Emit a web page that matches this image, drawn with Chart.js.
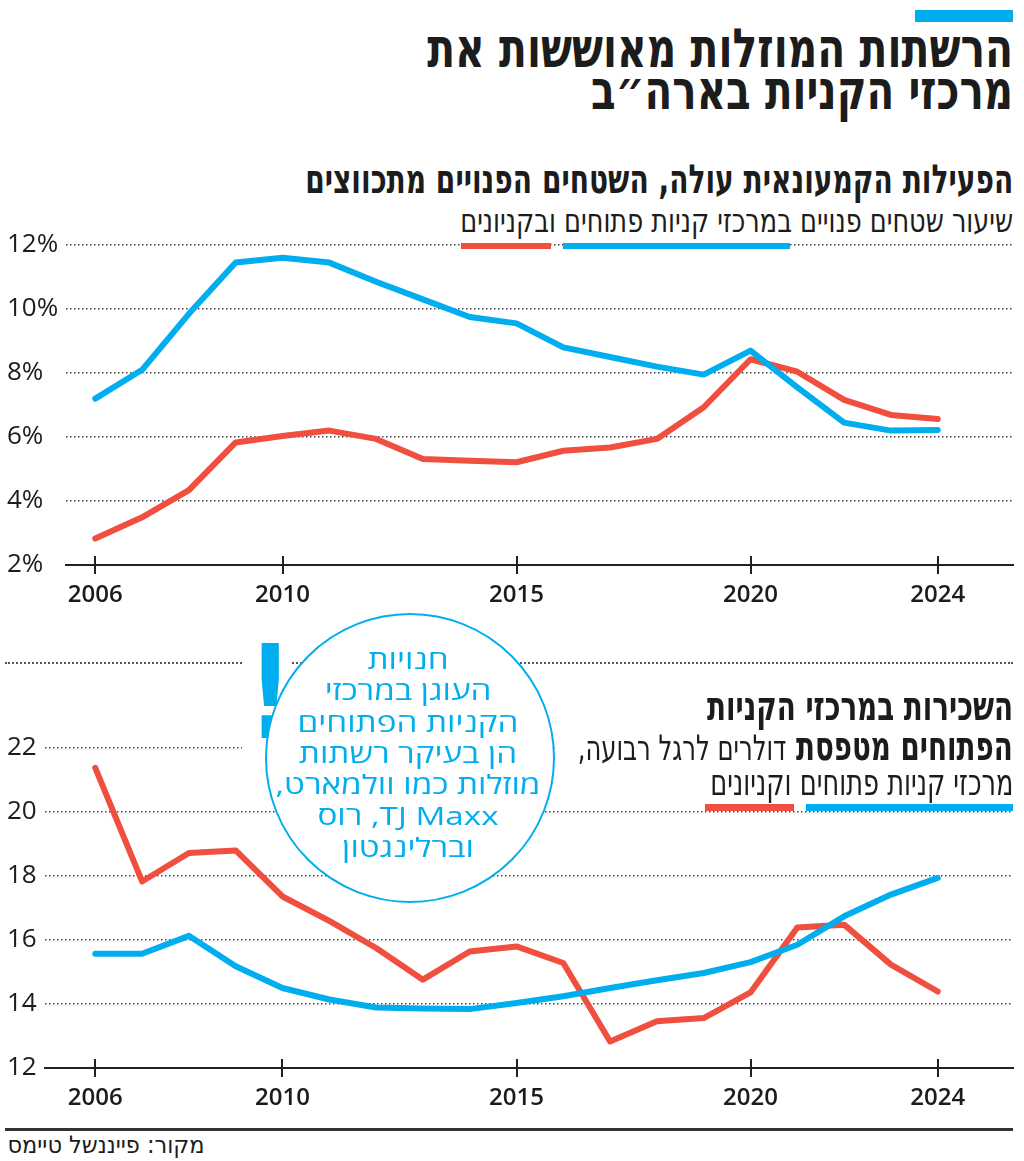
<!DOCTYPE html>
<html lang="he">
<head>
<meta charset="utf-8">
<title>הרשתות המוזלות מאוששות את מרכזי הקניות בארה״ב</title>
<script src="https://cdn.jsdelivr.net/npm/chart.js@4.4.1/dist/chart.umd.min.js"></script>
<style>
  body { margin: 0; background: #fff; width: 1024px; height: 1161px; position: relative; overflow: hidden;
         font-family: 'DejaVu Sans', sans-serif; color: #1c1c1c; }
  .fit { position: absolute; right: 11px; white-space: nowrap; direction: rtl; line-height: 1; transform-origin: 100% 50%; }
  .bold { font-weight: bold; }
  .reg { font-weight: normal; }
  .bar { position: absolute; }
  .blue { background: #00aeef; }
  .red { background: #f04e3e; }
  #circle { position: absolute; left: 265px; top: 613px; width: 286px; height: 286px; border: 2px solid #00aeef;
            border-radius: 50%; background: #fff; z-index: 3; }
  #circleText { position: absolute; left: 258px; width: 300px; top: 644px; z-index: 4; text-align: center; direction: rtl;
                font-family: 'Open Sans', sans-serif; font-size: 26px; line-height: 31.3px; color: #00aeef; }
  #bang { position: absolute; left: 242px; top: 630px; width: 48px; height: 125px; background: #fff; z-index: 3; }
  #bang span { position: absolute; left: 0; width: 48px; text-align: center; top: -2px; font-size: 130px; line-height: 1;
               font-weight: bold; color: #00aeef; transform: scaleX(0.75); }
  #sep { position: absolute; left: 5px; width: 1008px; top: 662px; border-top: 2px dotted #555; }
  #rule { position: absolute; left: 5px; width: 1008px; top: 1128px; height: 3px; background: #333; }
  .chartBox { position: absolute; left: 0; width: 1024px; }
  #titleBox2 { position: absolute; left: 555px; width: 469px; top: 684px; height: 116px; background: #fff; z-index: 2; }
</style>
</head>
<body>

<div class="bar blue" style="left:915px; top:10px; width:98px; height:12px;"></div>

<div class="fit bold" id="t1" data-w="586" style="top:22px; font-size:54px;">הרשתות המוזלות מאוששות את</div>
<div class="fit bold" id="t2" data-w="422" style="top:64px; font-size:54px;">מרכזי הקניות בארה״ב</div>

<div class="fit bold" id="s1" data-w="708" style="top:159px; font-size:40px;">הפעילות הקמעונאית עולה, השטחים הפנויים מתכווצים</div>
<div class="fit reg" id="s2" data-w="553" style="top:205px; font-size:32px;">שיעור שטחים פנויים במרכזי קניות פתוחים ובקניונים</div>

<div class="chartBox" style="top:225px; height:385px;"><canvas id="chartVacancy" width="1024" height="385"></canvas></div>

<div class="bar red" style="left:461px; top:243px; width:90px; height:6px; z-index:2;"></div>
<div class="bar blue" style="left:563px; top:243px; width:227px; height:6px; z-index:2;"></div>

<div id="sep"></div>

<div class="chartBox" style="top:728px; height:385px;"><canvas id="chartRent" width="1024" height="385"></canvas></div>

<div id="titleBox2"></div>
<div class="fit bold" id="b1" data-w="306" style="top:686px; font-size:40px; z-index:3;">השכירות במרכזי הקניות</div>
<div class="fit bold" id="b2" data-w="435" style="top:726px; font-size:40px; z-index:3;">הפתוחים מטפסת <span class="reg" style="font-size:35px;">דולרים לרגל רבועה,</span></div>
<div class="fit reg" id="b3" data-w="303" style="top:764px; font-size:37px; z-index:3;">מרכזי קניות פתוחים וקניונים</div>

<div class="bar red" style="left:705px; top:804px; width:89px; height:7px; z-index:3;"></div>
<div class="bar blue" style="left:806px; top:804px; width:207px; height:7px; z-index:3;"></div>

<div id="bang"><span>!</span></div>
<div id="circle"></div>
<div id="circleText">חנויות<br>העוגן במרכזי<br>הקניות הפתוחים<br>הן בעיקר רשתות<br>מוזלות כמו וולמארט,<br>TJ Maxx, רוס<br>וברלינגטון</div>

<div id="rule"></div>
<div class="fit reg" id="src" data-w="197" style="top:1133px; right:819px; font-size:24px;">מקור: פייננשל טיימס</div>

<script>
// data (annual, 2006-2024)
const years = [2006, 2007, 2008, 2009, 2010, 2011, 2012, 2013, 2014, 2015, 2016, 2017, 2018, 2019, 2020, 2021, 2022, 2023, 2024];
const yearTicks = [2006, 2010, 2015, 2020, 2024];

// vacancy rate, %
const vacancyOpenAir = [7.2, 8.1, 9.85, 11.45, 11.6, 11.45, 10.85, 10.3, 9.75, 9.55, 8.8, 8.5, 8.2, 7.95, 8.7, 7.55, 6.45, 6.2, 6.22];
const vacancyMalls = [2.83, 3.49, 4.34, 5.83, 6.03, 6.2, 5.94, 5.31, 5.26, 5.21, 5.57, 5.67, 5.94, 6.93, 8.43, 8.04, 7.16, 6.69, 6.56];
const vacancyTicks = [2, 4, 6, 8, 10, 12];

// rent, dollars per square foot
const rentOpenAir = [15.57, 15.57, 16.13, 15.18, 14.5, 14.14, 13.89, 13.86, 13.84, 14.03, 14.24, 14.5, 14.74, 14.97, 15.31, 15.85, 16.74, 17.42, 17.94];
const rentMalls = [21.38, 17.83, 18.72, 18.8, 17.36, 16.6, 15.75, 14.76, 15.64, 15.8, 15.28, 12.83, 13.46, 13.56, 14.36, 16.39, 16.48, 15.23, 14.39];
const rentTicks = [12, 14, 16, 18, 20, 22];

const BLUE = '#00aeef';
const RED = '#f04e3e';

// squeeze the headline texts to the widths they have in the print version
document.querySelectorAll('.fit').forEach(el => {
  const w = el.getBoundingClientRect().width;
  el.style.transform = 'scaleX(' + (el.dataset.w / w) + ')';
});
(function () {
  const ct = document.getElementById('circleText');
  const w = 265;
  // widest line is the 5th one
  const probe = document.createElement('span');
  probe.style.cssText = "font-family:'Open Sans',sans-serif;font-size:26px;white-space:nowrap;position:absolute;visibility:hidden";
  probe.textContent = 'מוזלות כמו וולמארט,';
  document.body.appendChild(probe);
  const s = Math.min(1.3, w / probe.getBoundingClientRect().width);
  probe.remove();
  ct.style.transform = 'scaleX(' + s + ')';
})();

Chart.defaults.font.family = "'Open Sans', sans-serif";
Chart.defaults.color = '#1c1c1c';

// tick marks that cross the x axis line
const crossTicks = {
  id: 'crossTicks',
  afterDraw(chart) {
    const xs = chart.scales.x;
    const ctx = chart.ctx;
    const y0 = chart.chartArea.bottom;
    ctx.save();
    ctx.strokeStyle = '#222';
    ctx.lineWidth = 2;
    xs.ticks.forEach(t => {
      const px = Math.round(xs.getPixelForValue(t.value));
      ctx.beginPath();
      ctx.moveTo(px, y0 - 9);
      ctx.lineTo(px, y0 + 9);
      ctx.stroke();
    });
    ctx.restore();
  }
};

function points(vals) {
  return years.map((y, i) => ({x: y, y: vals[i]}));
}

function lineSet(vals, color) {
  return {
    data: points(vals),
    borderColor: color,
    borderWidth: 6,
    pointRadius: 0,
    tension: 0,
    borderCapStyle: 'round',
    borderJoinStyle: 'round'
  };
}

function makeConfig(blueVals, redVals, yTicks, xMin, yAxisWidth, suffix) {
  return {
    type: 'line',
    data: {
      datasets: [lineSet(blueVals, BLUE), lineSet(redVals, RED)]
    },
    options: {
      responsive: false,
      animation: false,
      layout: { padding: { top: 20, left: 7, right: 11, bottom: 0 } },
      plugins: { legend: { display: false }, tooltip: { enabled: false } },
      scales: {
        x: {
          type: 'linear',
          min: xMin,
          max: 2025.608,
          afterBuildTicks: (scale) => { scale.ticks = yearTicks.map(v => ({value: v})); },
          afterFit: (scale) => { scale.height = 45; },
          grid: { drawOnChartArea: false, drawTicks: false },
          border: { display: true, color: '#222', width: 2 },
          ticks: {
            padding: 16,
            maxRotation: 0,
            autoSkip: false,
            font: { size: 24, weight: '600' },
            color: '#1c1c1c',
            callback: (v) => String(v)
          }
        },
        y: {
          min: yTicks[0],
          max: yTicks[yTicks.length - 1],
          afterBuildTicks: (scale) => { scale.ticks = yTicks.map(v => ({value: v})); },
          afterFit: (scale) => { scale.width = yAxisWidth; },
          grid: { color: '#444', lineWidth: 1.5, drawTicks: false },
          border: { display: false, dash: [1.5, 2.5] },
          ticks: {
            crossAlign: 'far',
            padding: 0,
            font: { size: 26 },
            color: '#1c1c1c',
            callback: (v) => v + suffix
          }
        }
      }
    },
    plugins: [crossTicks]
  };
}

new Chart(
  document.getElementById('chartVacancy'),
  makeConfig(vacancyOpenAir, vacancyMalls, vacancyTicks, 2005.374, 59, '%')
);
new Chart(
  document.getElementById('chartRent'),
  makeConfig(rentOpenAir, rentMalls, rentTicks, 2004.926, 38, '')
);
</script>
</body>
</html>
